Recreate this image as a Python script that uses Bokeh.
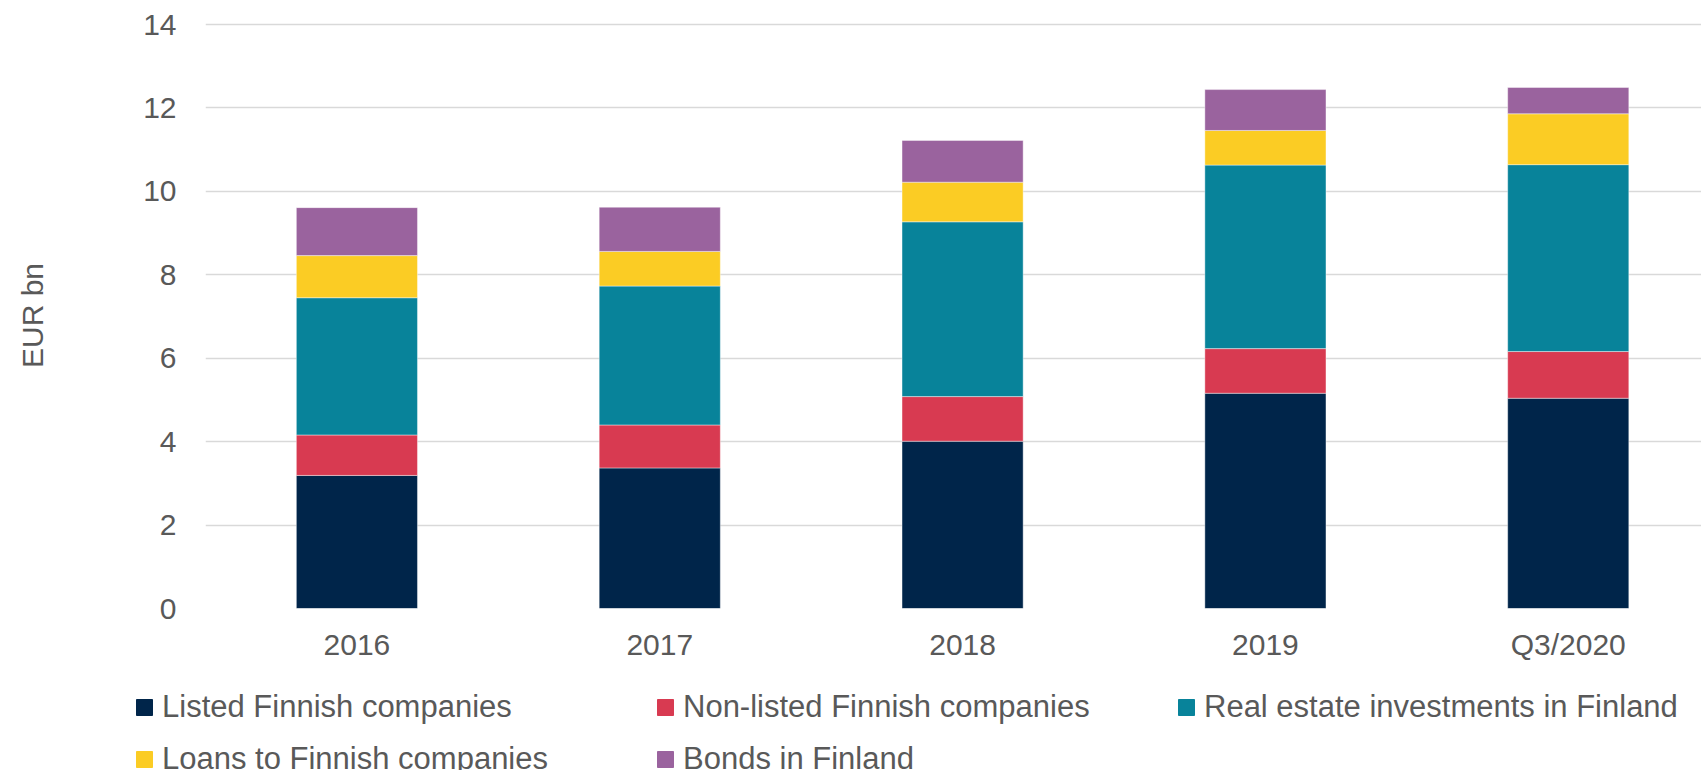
from bokeh.plotting import figure
from bokeh.layouts import column
from bokeh.models import (ColumnDataSource, Range1d, FixedTicker, Legend, LegendItem)
from bokeh.embed import file_html
from bokeh.resources import INLINE

# ---- data ----
categories = ["2016", "2017", "2018", "2019", "Q3/2020"]
listed = [3.19, 3.37, 4.01, 5.16, 5.04]
non_listed = [0.97, 1.03, 1.07, 1.07, 1.12]
real_estate = [3.29, 3.33, 4.19, 4.40, 4.48]
loans = [1.01, 0.83, 0.95, 0.83, 1.22]
bonds = [1.15, 1.06, 1.00, 0.98, 0.63]
series_names = ["Listed Finnish companies", "Non-listed Finnish companies",
                "Real estate investments in Finland", "Loans to Finnish companies",
                "Bonds in Finland"]
y_ticks = [0, 2, 4, 6, 8, 10, 12, 14]

colors = ["#00254a", "#d83a51", "#08839a", "#fbcc24", "#9a639e"]
keys = ["listed", "non_listed", "real_estate", "loans", "bonds"]
FONT = "Liberation Sans"
TXT = "#595959"

source = ColumnDataSource(data=dict(
    x=list(range(len(categories))), cat=categories,
    listed=listed, non_listed=non_listed, real_estate=real_estate,
    loans=loans, bonds=bonds))

# ---- main chart ----
p = figure(frame_width=1496, frame_height=586, output_backend="svg",
           toolbar_location=None, x_range=Range1d(-0.5, 4.44),
           y_range=Range1d(0, 14.048), min_border_left=205, min_border_right=0,
           min_border_top=22, min_border_bottom=57)
p.frame_align = False
p.outline_line_color = None
p.background_fill_color = "white"
p.border_fill_color = "white"

renderers = p.vbar_stack(keys, x="x", width=0.4, source=source, color=colors,
                         line_color="white", line_width=0.6, line_alpha=0.7)

p.xaxis.ticker = FixedTicker(ticks=list(range(len(categories))))
p.xaxis.major_label_overrides = {i: c for i, c in enumerate(categories)}
p.yaxis.ticker = FixedTicker(ticks=y_ticks)
for ax in (p.xaxis[0], p.yaxis[0]):
    ax.axis_line_color = None
    ax.major_tick_line_color = None
    ax.minor_tick_line_color = None
    ax.major_tick_out = 0
    ax.major_tick_in = 0
    ax.minor_tick_out = 0
    ax.major_label_text_font = FONT
    ax.major_label_text_font_size = "30px"
    ax.major_label_text_color = TXT
p.xaxis.major_label_standoff = 19
p.yaxis.major_label_standoff = 29
p.yaxis.axis_label = "EUR bn"
p.yaxis.axis_label_text_font = FONT
p.yaxis.axis_label_text_font_size = "30px"
p.yaxis.axis_label_text_font_style = "normal"
p.yaxis.axis_label_text_color = TXT
p.yaxis.axis_label_standoff = 91

p.xgrid.grid_line_color = None
p.ygrid.grid_line_color = "#d9d9d9"
p.ygrid.grid_line_width = 1.5

# ---- legend strip (own frame so the legend is not clipped) ----
lg = figure(width=1701, height=105, output_backend="svg", toolbar_location=None,
            x_range=Range1d(-20, -19), y_range=Range1d(0, 1),
            x_axis_location=None, y_axis_location=None,
            min_border=0, min_border_left=0, min_border_right=0,
            min_border_top=0, min_border_bottom=0)
lg.frame_align = False
lg.outline_line_color = None
lg.grid.visible = False
lg.background_fill_color = "white"
lg.border_fill_color = "white"

# same stacked bars, kept out of this strip's view: they only key the legend
keys_r = lg.vbar_stack(keys, x="x", width=0.4, source=source, color=colors)
items = [LegendItem(label=n, renderers=[r]) for n, r in zip(series_names, keys_r)]
legend = Legend(items=items, location=(134, -14.5), orientation="horizontal",
                ncols=3, glyph_width=20, glyph_height=20, label_standoff=8,
                label_width=493, label_height=52, spacing=0, padding=0, margin=0,
                border_line_color=None, background_fill_alpha=0,
                label_text_font=FONT, label_text_font_size="31px",
                label_text_color=TXT)
lg.add_layout(legend, "center")

layout = column(p, lg, spacing=0)
open("out.html", "w").write(file_html(layout, INLINE))
